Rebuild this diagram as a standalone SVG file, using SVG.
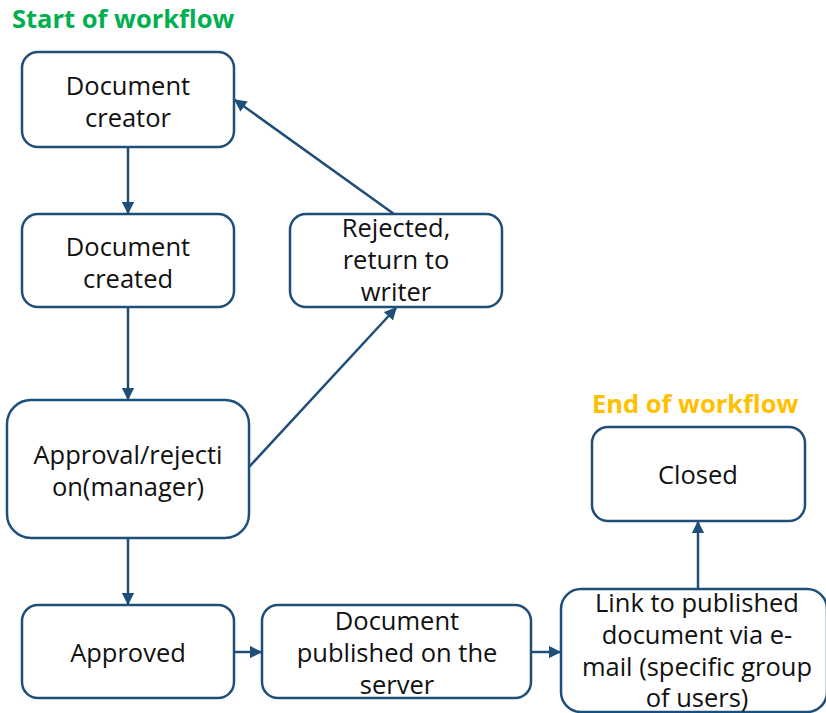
<svg xmlns="http://www.w3.org/2000/svg" width="826" height="713" viewBox="0 0 826 713">
<style>
.box{fill:#fff;stroke:#1f4e79;stroke-width:2.5}
.t{font-family:"Open Sans","Noto Sans",sans-serif;font-size:25.5px;fill:#111;text-anchor:middle}
.h{font-family:"Open Sans","Noto Sans",sans-serif;font-size:25.5px;font-weight:bold}
.c{stroke:#1f4e79;stroke-width:2.5;fill:none;marker-end:url(#ah)}
</style>
<defs>
<marker id="ah" viewBox="0 0 10 10" refX="9" refY="5" markerWidth="5" markerHeight="5" markerUnits="strokeWidth" orient="auto">
<path d="M0,0 L10,5 L0,10 z" fill="#1f4e79"/>
</marker>
</defs>
<rect width="826" height="713" fill="#fff"/>
<text class="h" x="12" y="28" fill="#00b050">Start of workflow</text>
<text class="h" x="592" y="413" fill="#ffc000">End of workflow</text>
<g id="connectors">
<line class="c" x1="128" y1="148" x2="128" y2="213"/>
<line class="c" x1="128" y1="308" x2="128" y2="399"/>
<line class="c" x1="128" y1="539" x2="128" y2="604"/>
<line class="c" x1="394" y1="214" x2="235" y2="100"/>
<line class="c" x1="249" y1="467" x2="396" y2="308"/>
<line class="c" x1="234" y1="652" x2="261" y2="652"/>
<line class="c" x1="531" y1="652" x2="560" y2="652"/>
<line class="c" x1="698" y1="589" x2="698" y2="522"/>
</g>
<g id="n1"><rect class="box" x="22" y="52" width="212" height="95" rx="16"/><text class="t" x="128" y="95">Document</text><text class="t" x="128" y="127">creator</text></g>
<g id="n2"><rect class="box" x="22" y="214" width="212" height="93" rx="16"/><text class="t" x="128" y="256">Document</text><text class="t" x="128" y="288">created</text></g>
<g id="n3"><rect class="box" x="290" y="214" width="212" height="93" rx="16"/><text class="t" x="396" y="237">Rejected,</text><text class="t" x="396" y="269">return to</text><text class="t" x="396" y="301">writer</text></g>
<g id="n4"><rect class="box" x="7" y="400" width="242" height="138" rx="24"/><text class="t" x="128" y="464">Approval/rejecti</text><text class="t" x="128" y="496">on(manager)</text></g>
<g id="n5"><rect class="box" x="22" y="605" width="212" height="93" rx="16"/><text class="t" x="128" y="662">Approved</text></g>
<g id="n6"><rect class="box" x="262" y="605" width="269" height="93" rx="16"/><text class="t" x="397" y="630">Document</text><text class="t" x="397" y="662">published on the</text><text class="t" x="397" y="694">server</text></g>
<g id="n7"><rect class="box" x="561" y="589" width="266" height="123" rx="20"/><text class="t" x="697" y="612">Link to published</text><text class="t" x="697" y="644">document via e-</text><text class="t" x="697" y="676">mail (specific group</text><text class="t" x="697" y="707">of users)</text></g>
<g id="n8"><rect class="box" x="592" y="427" width="213" height="94" rx="16"/><text class="t" x="698" y="484">Closed</text></g>
</svg>
